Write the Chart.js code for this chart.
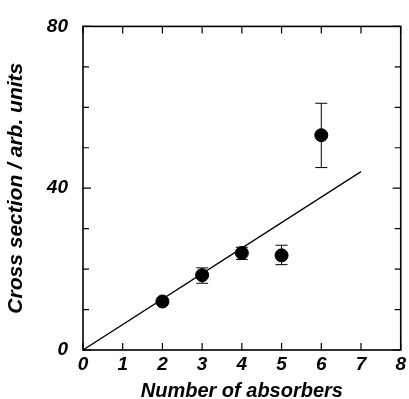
<!DOCTYPE html>
<html><head><meta charset="utf-8">
<script src="https://cdn.jsdelivr.net/npm/chart.js@4/dist/chart.umd.min.js"></script>
<style>html,body{margin:0;padding:0;background:#fff}#wrap{width:409px;height:399px}</style>
</head><body><div id="wrap"><canvas id="c" width="409" height="399"></canvas></div>
<script>
const absorbers = [2, 3, 4, 5, 6];
const crossSection = [12.0, 18.5, 24.0, 23.4, 53.1];
const errLow = [11.6, 16.5, 22.4, 21.1, 45.1];
const errHigh = [12.4, 20.3, 25.4, 25.9, 61.0];
const fitX = [0, 7];
const fitY = [0, 44.1];
const xTickValues = [0, 1, 2, 3, 4, 5, 6, 7, 8];
const yTickValues = [0, 40, 80];
const yMinorStep = 10;

const FAMILY = '"Liberation Sans", Arial, sans-serif';
const TICKFONT = {family: FAMILY, style: 'italic', weight: 'bold', size: 19};
const XTITLEFONT = {family: FAMILY, style: 'italic', weight: 'bold', size: 20, lineHeight: 0.8};
const YTITLEFONT = {family: FAMILY, style: 'italic', weight: 'bold', size: 21, lineHeight: 1};

const framePlugin = {
  id: 'frame',
  beforeDatasetsDraw(chart) {
    const ctx = chart.ctx, xs = chart.scales.x, ys = chart.scales.y;
    ctx.save();
    ctx.strokeStyle = '#000';
    ctx.lineWidth = 1;
    for (let i = 0; i < absorbers.length; i++) {
      const px = xs.getPixelForValue(absorbers[i]);
      const yl = ys.getPixelForValue(errLow[i]);
      const yh = ys.getPixelForValue(errHigh[i]);
      ctx.beginPath();
      ctx.moveTo(px, yl); ctx.lineTo(px, yh);
      ctx.moveTo(px - 6, yl); ctx.lineTo(px + 6, yl);
      ctx.moveTo(px - 6, yh); ctx.lineTo(px + 6, yh);
      ctx.stroke();
    }
    ctx.restore();
  },
  afterDraw(chart) {
    const ctx = chart.ctx, a = chart.chartArea, xs = chart.scales.x, ys = chart.scales.y;
    ctx.save();
    ctx.strokeStyle = '#000';
    ctx.lineWidth = 1.6;
    ctx.strokeRect(a.left, a.top, a.right - a.left, a.bottom - a.top);
    ctx.lineWidth = 1.2;
    ctx.beginPath();
    xTickValues.forEach(v => {
      const px = xs.getPixelForValue(v);
      ctx.moveTo(px, a.bottom); ctx.lineTo(px, a.bottom - 7);
      ctx.moveTo(px, a.top); ctx.lineTo(px, a.top + 7);
    });
    for (let v = ys.min; v <= ys.max; v += yMinorStep) {
      const py = ys.getPixelForValue(v);
      const len = yTickValues.includes(v) ? 8 : 6;
      ctx.moveTo(a.left, py); ctx.lineTo(a.left + len, py);
      ctx.moveTo(a.right, py); ctx.lineTo(a.right - len, py);
    }
    ctx.stroke();
    ctx.restore();
  }
};

new Chart(document.getElementById('c'), {
  type: 'scatter',
  data: {
    datasets: [
      {
        type: 'line',
        data: fitX.map((x, i) => ({x, y: fitY[i]})),
        borderColor: '#000', borderWidth: 1.3, pointRadius: 0, fill: false, tension: 0
      },
      {
        data: absorbers.map((x, i) => ({x, y: crossSection[i]})),
        backgroundColor: '#000', borderColor: '#000', pointRadius: 6.5, pointHoverRadius: 6.5
      }
    ]
  },
  options: {
    responsive: false, animation: false, devicePixelRatio: 1,
    layout: {padding: {top: 22, right: 6, left: 0, bottom: 0}},
    plugins: {legend: {display: false}, tooltip: {enabled: false}},
    scales: {
      x: {
        type: 'linear', min: 0, max: 8,
        afterFit(s) { s.height = 49; },
        afterBuildTicks(s) { s.ticks = xTickValues.map(v => ({value: v})); },
        grid: {display: false, drawTicks: false},
        border: {display: false},
        ticks: {color: '#000', font: TICKFONT, padding: 3, maxRotation: 0, autoSkip: false},
        title: {display: true, text: 'Number of absorbers', color: '#000', font: XTITLEFONT, padding: {top: 0, bottom: 0}}
      },
      y: {
        type: 'linear', min: 0, max: 80,
        afterFit(s) { s.width = 83; },
        afterBuildTicks(s) { s.ticks = yTickValues.map(v => ({value: v})); },
        grid: {display: false, drawTicks: false},
        border: {display: false},
        ticks: {color: '#000', font: TICKFONT, padding: 15},
        title: {display: true, text: 'Cross section / arb. units', color: '#000', font: YTITLEFONT, padding: {top: 6, bottom: 0}}
      }
    }
  },
  plugins: [framePlugin]
});
</script></body></html>
